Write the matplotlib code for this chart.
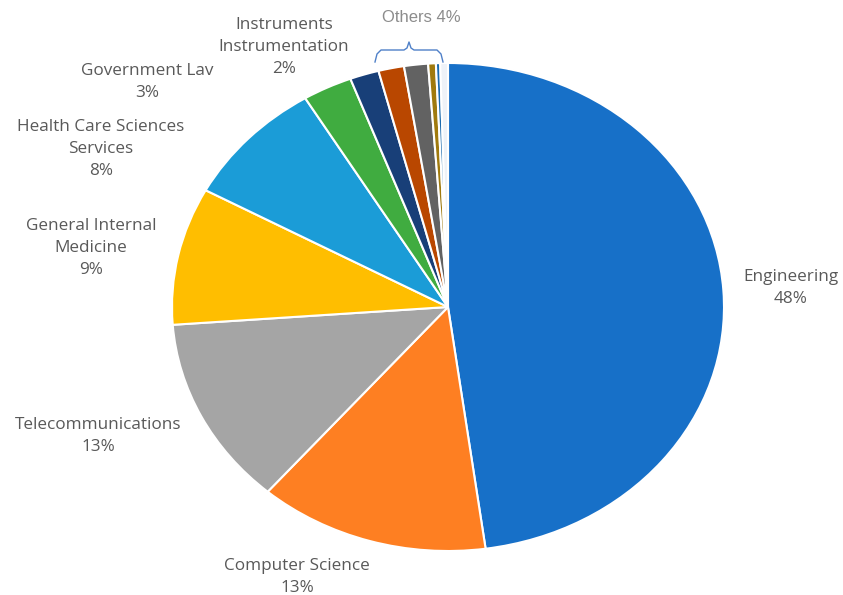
import matplotlib
matplotlib.use("Agg")
import matplotlib.pyplot as plt
from matplotlib.lines import Line2D

# slice data, clockwise from 12 o'clock
categories = ["Engineering", "Computer Science", "Telecommunications",
              "General Internal Medicine", "Health Care Sciences Services",
              "Government Law", "Instruments Instrumentation",
              "Other 1", "Other 2", "Other 3", "Other 4", "Other 5"]
shares = [47.8, 13.5, 12.5, 9.1, 8.4, 2.9, 1.7, 1.5, 1.4, 0.45, 0.25, 0.45]
colors = ["#1770C8", "#FE7F22", "#A5A5A5", "#FFBE00", "#1B9CD7", "#40AC40",
          "#183F78", "#B94700", "#626262", "#A07A0E", "#1A6AAE", "#EEF2F8"]

# label text for the named slices
label_text = ["Engineering\n48%", "Computer Science\n13%", "Telecommunications\n13%",
              "General Internal\nMedicine\n9%", "Health Care Sciences\nServices\n8%",
              "Government Lav\n3%", "Instruments\nInstrumentation\n2%"]
label_pos = [(791, 288), (297, 577), (98, 436), (91, 248), (101, 149), (147, 82), (284, 47)]
others_text = "Others 4%"

W, H = 843, 595
fig = plt.figure(figsize=(W / 100, H / 100), dpi=100)

cx, cy, rx, ry = 448, 307, 276, 244
ax = fig.add_axes([(cx - rx) / W, (H - cy - ry) / H, 2 * rx / W, 2 * ry / H])
ax.pie(shares, colors=colors, startangle=90, counterclock=False,
       wedgeprops=dict(edgecolor="white", linewidth=1.5))
ax.set_aspect("auto")
ax.set_xlim(-1, 1)
ax.set_ylim(-1, 1)
ax.axis("off")

for txt, (x, y) in zip(label_text, label_pos):
    fig.text(x / W, 1 - y / H, txt, ha="center", va="center", fontsize=12.3,
             color="#595959", family="Open Sans", linespacing=1.52)

fig.text(421 / W, 1 - 18 / H, others_text, ha="center", va="center", fontsize=12,
         color="#8C8C8C", family="Liberation Sans")

# bracket over the small slices
bx = [375, 377, 381, 404, 407, 409, 411, 414, 437, 441, 443]
by = [62, 54, 50, 50, 48, 42, 48, 50, 50, 54, 62]
fig.add_artist(Line2D([x / W for x in bx], [1 - y / H for y in by],
                      transform=fig.transFigure, color="#4F80C8", linewidth=1))

fig.savefig("out.png", dpi=100, facecolor="white")
